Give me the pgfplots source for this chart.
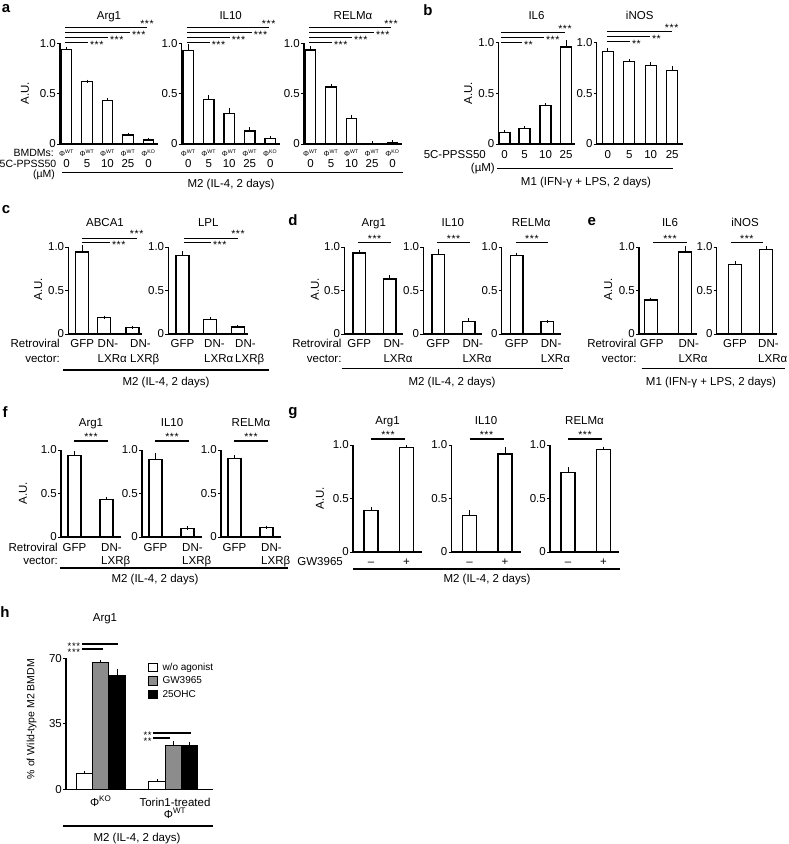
\documentclass[border=0pt]{standalone}
\usepackage{pgfplots}
\pgfplotsset{compat=1.18}
\usepackage{fontspec}
\setmainfont{Liberation Sans}
\newcommand{\fa}{\fontsize{11.5}{13}\selectfont}
\newcommand{\fb}{\fontsize{10.5}{12}\selectfont}
\newcommand{\fs}{\fontsize{10.5}{12}\selectfont}
\newcommand{\fp}{\fontsize{15}{17}\selectfont\bfseries}
\newcommand{\ff}{\fontsize{7.5}{9}\selectfont}
\newcommand{\tts}{*\kern0.6pt*\kern0.6pt*}
\newcommand{\tw}{*\kern0.6pt*}
\newcommand{\pwt}{{\ff Φ\textsuperscript{WT}}}
\newcommand{\pko}{{\ff Φ\textsuperscript{KO}}}

\pgfplotsset{
 pan/.style={scale only axis, anchor=south west, clip=false,
   axis x line*=bottom, axis y line*=left,
   axis line style={line width=1.1pt,-},
   xtick=\empty, ymin=0, ymax=1, ytick={0,0.5,1}, yticklabels={0,0.5,1.0},
   tick align=outside, major tick length=3pt,
   tick style={black, line width=1pt},
   yticklabel style={font=\fa, inner sep=1pt},
   /pgf/number format/assume math mode=true},
 bb/.style={ybar, bar shift=0pt, draw=black, fill=white, line width=1.2pt,
   /pgfplots/error bars/y dir=plus, /pgfplots/error bars/y explicit,
   /pgfplots/error bars/error bar style={line width=1pt, black},
   /pgfplots/error bars/error mark options={black, line width=1pt, mark size=1.6pt}}
}
\tikzset{
 sig/.style={line width=1.1pt},
 T/.style={font=\fa, inner sep=0pt, anchor=base},
 TE/.style={font=\fa, inner sep=0pt, anchor=base east},
 TW/.style={font=\fa, inner sep=0pt, anchor=base west},
 sa/.style={font=\fs, inner sep=0pt, anchor=base west, xshift=1.5pt, yshift=-5.5pt},
 sb/.style={font=\fs, inner sep=0pt, anchor=base, yshift=0.5pt},
 sl/.style={font=\fs, inner sep=0pt, anchor=base east, xshift=-1.5pt, yshift=-5.5pt},
 PL/.style={font=\fp, inner sep=0pt, anchor=center},
 AU/.style={font=\fa, inner sep=0pt, rotate=90, anchor=center},
}

\begin{document}
\begin{tikzpicture}[x=1pt,y=-1pt]
\path[use as bounding box] (0,0) rectangle (788,844);

%%%%%%%%%%%%%%%% panel a
\begin{axis}[pan, at={(60pt,-144pt)}, width=98pt, height=100.7pt, xmin=0, xmax=98]
\addplot[bb, bar width=10.5] coordinates {(6.5,0.94)+-(0,0.012) (27,0.62)+-(0,0.004) (47.5,0.43)+-(0,0.012) (68,0.09)+-(0,0.005) (88.5,0.04)+-(0,0.004)};
\end{axis}
\begin{axis}[pan, at={(181.7pt,-144pt)}, width=98pt, height=100.7pt, xmin=0, xmax=98]
\addplot[bb, bar width=10.5] coordinates {(6.5,0.925)+-(0,0.05) (27,0.44)+-(0,0.03) (47.5,0.305)+-(0,0.035) (68,0.13)+-(0,0.02) (88.5,0.055)+-(0,0.006)};
\end{axis}
\begin{axis}[pan, at={(304pt,-144pt)}, width=98pt, height=100.7pt, xmin=0, xmax=98]
\addplot[bb, bar width=10.5] coordinates {(6.5,0.933)+-(0,0.02) (27,0.566)+-(0,0.012) (47.5,0.255)+-(0,0.015) (68,0.007)+-(0,0.002) (88.5,0.017)+-(0,0.004)};
\end{axis}
\node[PL] at (6,9) {a};
\node[AU] at (25,93) {A.U.};
\foreach \xo/\ti in {60/Arg1, 181.7/IL10, 304/RELMα}{
  \node[T] at (\xo+49,19) {\ti};
  \draw[sig] (\xo+5,42.7)--(\xo+28,42.7) node[sa]{\tts};
  \draw[sig] (\xo+5,37.5)--(\xo+48,37.5) node[sa]{\tts};
  \draw[sig] (\xo+5,32.5)--(\xo+70,32.5) node[sa]{\tts};
  \draw[sig] (\xo+5,27.5)--(\xo+87,27.5) node[sb]{\tts};
  \node[anchor=base, inner sep=0pt] at (\xo+6.5,156.5) {\pwt};
  \node[anchor=base, inner sep=0pt] at (\xo+27,156.5) {\pwt};
  \node[anchor=base, inner sep=0pt] at (\xo+47.5,156.5) {\pwt};
  \node[anchor=base, inner sep=0pt] at (\xo+68,156.5) {\pwt};
  \node[anchor=base, inner sep=0pt] at (\xo+88.5,156.5) {\pko};
  \node[T] at (\xo+6.5,167.3) {0};
  \node[T] at (\xo+27,167.3) {5};
  \node[T] at (\xo+47.5,167.3) {10};
  \node[T] at (\xo+68,167.3) {25};
  \node[T] at (\xo+88.5,167.3) {0};
}
\node[TE, font=\fb] at (54,156.7) {BMDMs:};
\node[TE, font=\fb] at (56.5,167.3) {5C-PPSS50};
\node[TE, font=\fb] at (55,177.3) {(µM)};
\draw[sig] (62,172.5)--(403,172.5);
\node[T] at (231,187.5) {M2 (IL-4, 2 days)};

%%%%%%%%%%%%%%%% panel b
\begin{axis}[pan, at={(498.5pt,-144pt)}, width=76pt, height=101.5pt, xmin=0, xmax=76]
\addplot[bb, bar width=11] coordinates {(6,0.116)+-(0,0.005) (26,0.156)+-(0,0.005) (47,0.38)+-(0,0.006) (67.5,0.955)+-(0,0.05)};
\end{axis}
\begin{axis}[pan, at={(596.7pt,-144pt)}, width=86pt, height=101.5pt, xmin=0, xmax=86]
\addplot[bb, bar width=11] coordinates {(11,0.908)+-(0,0.02) (32.5,0.81)+-(0,0.01) (54,0.777)+-(0,0.02) (75.5,0.728)+-(0,0.02)};
\end{axis}
\node[PL] at (428,10) {b};
\node[AU] at (468.3,93) {A.U.};
\node[T] at (536.5,19) {IL6};
\node[T] at (639.7,19) {iNOS};
\draw[sig] (501,42.5)--(522,42.5) node[sa]{\tw};
\draw[sig] (501,37.5)--(544,37.5) node[sa]{\tts};
\draw[sig] (501,32.5)--(565,32.5) node[sb]{\tts};
\draw[sig] (606.7,41.7)--(630,41.7) node[sa]{\tw};
\draw[sig] (606.7,36.7)--(650,36.7) node[sa]{\tw};
\draw[sig] (606.7,31.7)--(671.7,31.7) node[sb]{\tts};
\foreach \xx/\lab in {504.5/0, 524.5/5, 545.5/10, 566/25, 607.7/0, 629.2/5, 650.7/10, 672.2/25}{
  \node[T] at (\xx,158.3) {\lab};
}
\node[TE] at (486,158.3) {5C-PPSS50};
\node[TE] at (495,171) {(µM)};
\draw[sig] (497,168.3)--(673,168.3);
\node[T] at (586,185) {M1 (IFN-γ + LPS, 2 days)};

%%%%%%%%%%%%%%%% panel c
\begin{axis}[pan, at={(68.3pt,-334pt)}, width=73.5pt, height=87pt, xmin=0, xmax=73.5]
\addplot[bb, bar width=13] coordinates {(14,0.942)+-(0,0.06) (36,0.188)+-(0,0.004) (64.2,0.073)+-(0,0.004)};
\end{axis}
\begin{axis}[pan, at={(168.3pt,-334pt)}, width=80pt, height=87pt, xmin=0, xmax=80]
\addplot[bb, bar width=13] coordinates {(14.2,0.90)+-(0,0.035) (41.9,0.169)+-(0,0.005) (69.5,0.081)+-(0,0.004)};
\end{axis}
\node[PL] at (6,210) {c};
\node[AU] at (38.3,289) {A.U.};
\node[T] at (105,226) {ABCA1};
\node[T] at (208.3,226) {LPL};
\draw[sig] (81.7,242.7)--(110,242.7) node[sa]{\tts};
\draw[sig] (81.7,238.3)--(136.7,238.3) node[sb]{\tts};
\draw[sig] (184.3,242.7)--(211,242.7) node[sa]{\tts};
\draw[sig] (184.3,238.3)--(238,238.3) node[sb]{\tts};
\node[TE] at (60,347.3) {Retroviral};
\node[TE] at (60,362.3) {vector:};
\node[T] at (82.3,347.3) {GFP};
\node[TW] at (97.5,347.3) {DN-};
\node[TW] at (97.5,362.3) {LXRα};
\node[TW] at (130,347.3) {DN-};
\node[TW] at (130,362.3) {LXRβ};
\node[T] at (182.5,347.3) {GFP};
\node[TW] at (204,347.3) {DN-};
\node[TW] at (204,362.3) {LXRα};
\node[TW] at (235,347.3) {DN-};
\node[TW] at (235,362.3) {LXRβ};
\draw[sig] (63,370)--(269,370);
\node[T] at (166,385) {M2 (IL-4, 2 days)};

%%%%%%%%%%%%%%%% panel d
\begin{axis}[pan, at={(344.3pt,-334pt)}, width=59pt, height=87pt, xmin=0, xmax=59]
\addplot[bb, bar width=12.5] coordinates {(15,0.932)+-(0,0.015) (45.5,0.633)+-(0,0.027)};
\end{axis}
\begin{axis}[pan, at={(423.3pt,-334pt)}, width=59pt, height=87pt, xmin=0, xmax=59]
\addplot[bb, bar width=12.5] coordinates {(15,0.917)+-(0,0.04) (45.5,0.14)+-(0,0.02)};
\end{axis}
\begin{axis}[pan, at={(501.7pt,-334pt)}, width=59pt, height=87pt, xmin=0, xmax=59]
\addplot[bb, bar width=12.5] coordinates {(15,0.898)+-(0,0.02) (45.5,0.14)+-(0,0.003)};
\end{axis}
\node[PL] at (293,220) {d};
\node[AU] at (315,289) {A.U.};
\foreach \xo/\ti in {344.3/Arg1, 423.3/IL10, 501.7/RELMα}{
  \node[T] at (\xo+29.5,226) {\ti};
  \draw[sig] (\xo+14,242.7)--(\xo+46.5,242.7) node[midway,sb]{\tts};
  \node[T] at (\xo+15,347.3) {GFP};
  \node[TW] at (\xo+39,347.3) {DN-};
  \node[TW] at (\xo+39,362.3) {LXRα};
}
\node[TE] at (341.7,347.3) {Retroviral};
\node[TE] at (341.7,362.3) {vector:};
\draw[sig] (341.7,368.3)--(563,368.3);
\node[T] at (452,385) {M2 (IL-4, 2 days)};

%%%%%%%%%%%%%%%% panel e
\begin{axis}[pan, at={(639pt,-334pt)}, width=57.7pt, height=87pt, xmin=0, xmax=57.7]
\addplot[bb, bar width=13] coordinates {(11.7,0.39)+-(0,0.01) (46,0.943)+-(0,0.045)};
\end{axis}
\begin{axis}[pan, at={(716.7pt,-334pt)}, width=60pt, height=87pt, xmin=0, xmax=60]
\addplot[bb, bar width=13] coordinates {(18.3,0.80)+-(0,0.02) (49.6,0.973)+-(0,0.02)};
\end{axis}
\node[PL] at (591.7,222) {e};
\node[AU] at (608.3,289) {A.U.};
\node[T] at (670,226) {IL6};
\node[T] at (745,226) {iNOS};
\draw[sig] (653.3,242.7)--(686.7,242.7) node[midway,sb]{\tts};
\draw[sig] (731,242.7)--(762.7,242.7) node[midway,sb]{\tts};
\node[TE] at (636.7,347.3) {Retroviral};
\node[TE] at (636.7,362.3) {vector:};
\node[T] at (651.7,347.3) {GFP};
\node[TW] at (678.3,347.3) {DN-};
\node[TW] at (678.3,362.3) {LXRα};
\node[T] at (735,347.3) {GFP};
\node[TW] at (758,347.3) {DN-};
\node[TW] at (758,362.3) {LXRα};
\draw[sig] (641.7,368.3)--(785,368.3);
\node[T] at (711,385) {M1 (IFN-γ + LPS, 2 days)};

%%%%%%%%%%%%%%%% panel f
\begin{axis}[pan, at={(61pt,-537pt)}, width=60pt, height=87pt, xmin=0, xmax=60]
\addplot[bb, bar width=13] coordinates {(13.5,0.94)+-(0,0.03) (45.5,0.435)+-(0,0.01)};
\end{axis}
\begin{axis}[pan, at={(142pt,-537pt)}, width=60pt, height=87pt, xmin=0, xmax=60]
\addplot[bb, bar width=13] coordinates {(13.5,0.89)+-(0,0.055) (45.5,0.10)+-(0,0.003)};
\end{axis}
\begin{axis}[pan, at={(221pt,-537pt)}, width=60pt, height=87pt, xmin=0, xmax=60]
\addplot[bb, bar width=13] coordinates {(13.5,0.90)+-(0,0.025) (45.5,0.105)+-(0,0.008)};
\end{axis}
\node[PL] at (5,412) {f};
\node[AU] at (23,493) {A.U.};
\foreach \xo/\ti in {61/Arg1, 142/IL10, 221/RELMα}{
  \node[T] at (\xo+30,426) {\ti};
  \draw[sig] (\xo+13,441)--(\xo+47,441) node[midway,sb]{\tts};
  \node[T] at (\xo+13.5,551) {GFP};
  \node[TW] at (\xo+40,551) {DN-};
  \node[TW] at (\xo+40,564) {LXRβ};
}
\node[TE] at (58,551) {Retroviral};
\node[TE] at (58,564) {vector:};
\draw[sig] (60,568)--(288,568);
\node[T] at (155,582) {M2 (IL-4, 2 days)};

%%%%%%%%%%%%%%%% panel g
\begin{axis}[pan, at={(353pt,-552pt)}, width=69pt, height=107pt, xmin=0, xmax=69]
\addplot[bb, bar width=14] coordinates {(18,0.39)+-(0,0.02) (53.5,0.975)+-(0,0.008)};
\end{axis}
\begin{axis}[pan, at={(451.5pt,-552pt)}, width=69pt, height=107pt, xmin=0, xmax=69]
\addplot[bb, bar width=14] coordinates {(18,0.3375)+-(0,0.04) (53.5,0.916)+-(0,0.047)};
\end{axis}
\begin{axis}[pan, at={(550pt,-552pt)}, width=69pt, height=107pt, xmin=0, xmax=69]
\addplot[bb, bar width=14] coordinates {(18,0.74)+-(0,0.04) (53.5,0.96)+-(0,0.01)};
\end{axis}
\node[PL] at (293,413) {g};
\node[AU] at (320,498) {A.U.};
\foreach \xo/\ti in {353/Arg1, 451.5/IL10, 550/RELMα}{
  \node[T] at (\xo+34.5,424) {\ti};
  \draw[sig] (\xo+18,439)--(\xo+52,439) node[midway,sb]{\tts};
  \node[T] at (\xo+18,565) {–};
  \node[T] at (\xo+53.5,565) {+};
}
\node[TE] at (343,565) {GW3965};
\draw[sig] (353,569)--(620,569);
\node[T] at (487,582) {M2 (IL-4, 2 days)};

%%%%%%%%%%%%%%%% panel h
\begin{axis}[pan, at={(66pt,-789.3pt)}, width=147pt, height=131pt, xmin=0, xmax=147,
  ymax=70, ytick={0,35,70}, yticklabels={0,35,70},
  legend style={at={(0.558,0.975)}, anchor=north west, draw=none, fill=none,
    font=\fontsize{10}{12}\selectfont, row sep=3pt, inner sep=0pt,
    nodes={inner sep=1pt},
    /tikz/every odd column/.append style={column sep=4pt}},
  legend cell align=left,
  legend image code/.code={\draw[#1, line width=0.9pt] (0pt,-4.2pt) rectangle (8.4pt,4.2pt);}]
\addplot[bb, bar width=16.3, fill=white] coordinates {(18.5,8.5)+-(0,0.6) (91,4.1)+-(0,0.5)};
\addplot[bb, bar width=16.3, fill=black!45] coordinates {(34.7,67.9)+-(0,0.4) (107.3,23.2)+-(0,1.7)};
\addplot[bb, bar width=16.3, fill=black] coordinates {(51,60.7)+-(0,2.5) (123.7,23.2)+-(0,1.4)};
\legend{w/o agonist, GW3965, 25OHC}
\end{axis}
\node[PL] at (5,612) {h};
\node[T] at (105,621) {Arg1};
\node[font=\fontsize{10.5}{12}\selectfont, inner sep=0pt, rotate=90] at (31.7,719) {\% of Wild-type M2 BMDM};
\draw[sig] (81.7,644)--(118,644);
\draw[sig] (81.7,649)--(103,649);
\node[sl, font=\fontsize{9.5}{11}\selectfont] at (81.7,643.5) {\tts};
\node[sl, font=\fontsize{9.5}{11}\selectfont] at (81.7,649.5) {\tts};
\draw[sig] (153.3,733)--(190.7,733);
\draw[sig] (153.3,738)--(170,738);
\node[sl, font=\fontsize{9.5}{11}\selectfont] at (153.3,732.5) {\tw};
\node[sl, font=\fontsize{9.5}{11}\selectfont] at (153.3,738.5) {\tw};
\node[T] at (100.7,806) {Φ\textsuperscript{KO}};
\node[T] at (175,806) {Torin1-treated};
\node[T] at (175,818) {Φ\textsuperscript{WT}};
\draw[sig] (63,826)--(213,826);
\node[T] at (137,841) {M2 (IL-4, 2 days)};
\end{tikzpicture}
\end{document}
